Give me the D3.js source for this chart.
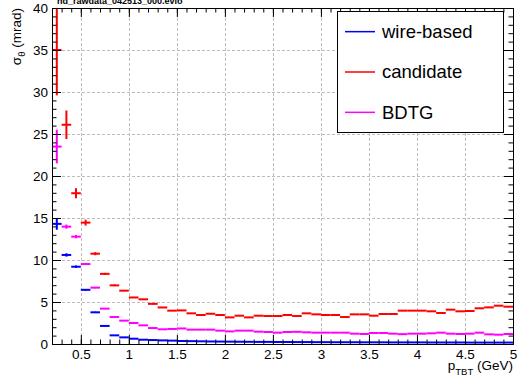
<!DOCTYPE html>
<html>
<head>
<meta charset="utf-8">
<script src="https://cdn.jsdelivr.net/npm/d3@7"></script>
<style>
  html, body { margin: 0; padding: 0; background: #fff; }
  svg { display: block; font-family: "Liberation Sans", Arial, Helvetica, sans-serif; }
</style>
</head>
<body>
<svg id="chart" width="519" height="378"></svg>
<script>
// Bin centres of p_TBT (GeV), 0.1 GeV wide bins from 0.2 to 5.0
const binCenters = [0.25,0.35,0.45,0.55,0.65,0.75,0.85,0.95,1.05,1.15,1.25,1.35,1.45,1.55,1.65,1.75,1.85,1.95,
  2.05,2.15,2.25,2.35,2.45,2.55,2.65,2.75,2.85,2.95,3.05,3.15,3.25,3.35,3.45,3.55,3.65,3.75,3.85,3.95,
  4.05,4.15,4.25,4.35,4.45,4.55,4.65,4.75,4.85,4.95];
const binWidth = 0.1;

// sigma_theta (mrad) per bin
const wireBased = [14.3,10.6,9.2,6.45,3.77,2.15,1.03,0.79,0.63,0.51,0.47,0.43,0.40,0.36,0.34,0.32,0.30,0.29,
  0.28,0.27,0.26,0.25,0.25,0.24,0.24,0.23,0.23,0.22,0.22,0.21,0.21,0.21,0.20,0.20,0.20,0.19,0.19,0.19,
  0.19,0.18,0.18,0.18,0.18,0.17,0.17,0.17,0.17,0.17];
const wireBasedErr = [0.7,0.2,0.15,0.1,0.08,0.06,0.04,0.03,0.03,0.02,0.02,0.02,0.02,0.02,0.02,0.02,0.02,0.02,
  0.02,0.02,0.02,0.02,0.02,0.02,0.02,0.02,0.02,0.02,0.02,0.02,0.02,0.02,0.02,0.02,0.02,0.02,0.02,0.02,
  0.02,0.02,0.02,0.02,0.02,0.02,0.02,0.02,0.02,0.02];

const candidate = [35.0,26.1,17.95,14.45,10.75,8.35,6.98,6.35,5.54,5.32,4.78,4.35,3.97,4.0,3.65,3.45,3.6,3.45,
  3.17,3.37,3.17,3.37,3.33,3.33,3.45,3.33,3.65,3.53,3.45,3.45,3.21,3.53,3.53,3.37,3.57,3.57,3.97,3.97,
  3.97,3.89,3.69,4.09,3.89,3.93,4.25,4.36,4.56,4.44];
const candidateErr = [5.4,1.7,0.6,0.35,0.18,0.12,0.1,0.08,0.07,0.06,0.06,0.05,0.05,0.05,0.05,0.05,0.05,0.05,
  0.05,0.05,0.05,0.05,0.05,0.05,0.05,0.05,0.05,0.05,0.05,0.05,0.05,0.05,0.05,0.05,0.05,0.05,0.05,0.05,
  0.05,0.05,0.05,0.05,0.05,0.05,0.05,0.05,0.05,0.05];

const bdtg = [23.5,13.97,12.78,9.52,6.71,4.21,3.21,2.78,2.5,2.22,1.9,1.75,1.79,1.85,1.71,1.71,1.71,1.59,
  1.5,1.59,1.59,1.47,1.43,1.35,1.43,1.45,1.39,1.35,1.35,1.35,1.35,1.23,1.19,1.31,1.31,1.23,1.17,1.23,
  1.23,1.27,1.35,1.23,1.19,1.23,1.35,1.15,1.11,1.19];
const bdtgErr = [2.0,0.25,0.2,0.12,0.08,0.06,0.05,0.04,0.04,0.03,0.03,0.03,0.03,0.03,0.03,0.03,0.03,0.03,
  0.03,0.03,0.03,0.03,0.03,0.03,0.03,0.03,0.03,0.03,0.03,0.03,0.03,0.03,0.03,0.03,0.03,0.03,0.03,0.03,
  0.03,0.03,0.03,0.03,0.03,0.03,0.03,0.03,0.03,0.03];

const seriesNames = ["wire-based", "candidate", "BDTG"];
const seriesColors = ["#0000ff", "#ff0000", "#ff00ff"];

const xTickValues = [0.5,1,1.5,2,2.5,3,3.5,4,4.5,5];
const xTickLabels = ["0.5","1","1.5","2","2.5","3","3.5","4","4.5","5"];
const yTickValues = [0,5,10,15,20,25,30,35,40];
const yTickLabels = ["0","5","10","15","20","25","30","35","40"];

const titleText = "hd_rawdata_042513_000.evio";

// ---- layout ----
const svg = d3.select("#chart");
const L = 52, R = 513, T = 8, B = 344;
const x = d3.scaleLinear().domain([0.2, 5]).range([L, R]);
const y = d3.scaleLinear().domain([0, 40]).range([B, T]);

// grid
const grid = svg.append("g").attr("stroke", "#bdbdbd").attr("stroke-width", 1).attr("stroke-dasharray", "3,2");
grid.selectAll("line.gx").data(xTickValues.filter(v => v < 5)).join("line")
  .attr("x1", d => Math.round(x(d)) + 0.5).attr("x2", d => Math.round(x(d)) + 0.5)
  .attr("y1", T).attr("y2", B);
grid.selectAll("line.gy").data(yTickValues.filter(v => v > 0 && v < 40)).join("line")
  .attr("y1", d => Math.round(y(d)) + 0.5).attr("y2", d => Math.round(y(d)) + 0.5)
  .attr("x1", L).attr("x2", R);

// data
svg.append("defs").append("clipPath").attr("id", "plotclip")
  .append("rect").attr("x", L).attr("y", T).attr("width", R - L).attr("height", B - T);
const plot = svg.append("g").attr("clip-path", "url(#plotclip)");

const seriesData = [
  { vals: wireBased, errs: wireBasedErr },
  { vals: candidate, errs: candidateErr },
  { vals: bdtg, errs: bdtgErr }
];
seriesData.forEach((s, i) => {
  const g = plot.append("g").attr("stroke", seriesColors[i]).attr("stroke-width", 2);
  const pts = binCenters.map((c, k) => ({ c, v: s.vals[k], e: s.errs[k] }));
  g.selectAll("line.h").data(pts).join("line")
    .attr("x1", d => x(d.c - binWidth / 2)).attr("x2", d => x(d.c + binWidth / 2))
    .attr("y1", d => y(d.v)).attr("y2", d => y(d.v));
  g.selectAll("line.v").data(pts).join("line")
    .attr("x1", d => x(d.c)).attr("x2", d => x(d.c))
    .attr("y1", d => y(d.v - d.e)).attr("y2", d => y(d.v + d.e));
});

// axes (ROOT style: ticks pointing into the frame, on all four sides)
const fontSize = 13.5;
const xMinor = d3.range(3, 51).map(k => k / 10);
const yMinor = d3.range(0, 41);

function styleAxis(g) {
  g.selectAll("path.domain").attr("stroke", "#000").attr("stroke-width", 1);
  g.selectAll(".tick line").attr("stroke", "#000");
  g.selectAll("text").attr("fill", "#000").attr("font-size", fontSize)
    .attr("font-family", "'Liberation Sans', Arial, Helvetica, sans-serif");
}

svg.append("g").attr("transform", `translate(0,${B})`)
  .call(d3.axisBottom(x).tickValues(xMinor).tickSize(-4.5).tickSizeOuter(0).tickFormat(""))
  .call(styleAxis);
svg.append("g").attr("transform", `translate(0,${B})`)
  .call(d3.axisBottom(x).tickValues(xTickValues).tickSize(-9).tickSizeOuter(0).tickPadding(5)
    .tickFormat((d, i) => xTickLabels[i]))
  .call(styleAxis);
svg.append("g").attr("transform", `translate(0,${T})`)
  .call(d3.axisTop(x).tickValues(xMinor).tickSize(-4.5).tickSizeOuter(0).tickFormat(""))
  .call(styleAxis);
svg.append("g").attr("transform", `translate(0,${T})`)
  .call(d3.axisTop(x).tickValues(xTickValues).tickSize(-9).tickSizeOuter(0).tickFormat(""))
  .call(styleAxis);

svg.append("g").attr("transform", `translate(${L},0)`)
  .call(d3.axisLeft(y).tickValues(yMinor).tickSize(-4.5).tickSizeOuter(0).tickFormat(""))
  .call(styleAxis);
svg.append("g").attr("transform", `translate(${L},0)`)
  .call(d3.axisLeft(y).tickValues(yTickValues).tickSize(-9).tickSizeOuter(0).tickPadding(4)
    .tickFormat((d, i) => yTickLabels[i]))
  .call(styleAxis);
svg.append("g").attr("transform", `translate(${R},0)`)
  .call(d3.axisRight(y).tickValues(yMinor).tickSize(-4.5).tickSizeOuter(0).tickFormat(""))
  .call(styleAxis);
svg.append("g").attr("transform", `translate(${R},0)`)
  .call(d3.axisRight(y).tickValues(yTickValues).tickSize(-9).tickSizeOuter(0).tickFormat(""))
  .call(styleAxis);

// axis titles
const xt = svg.append("text").attr("x", R).attr("y", 370).attr("text-anchor", "end")
  .attr("font-size", fontSize).attr("fill", "#000");
xt.append("tspan").text("p");
xt.append("tspan").attr("font-size", 9.5).attr("dy", 5).text("TBT");
xt.append("tspan").attr("dy", -5).text(" (GeV)");

const yt = svg.append("text").attr("transform", "rotate(-90)")
  .attr("x", -T).attr("y", 21).attr("text-anchor", "end")
  .attr("font-size", fontSize).attr("fill", "#000");
yt.append("tspan").text("σ");
yt.append("tspan").attr("font-size", 9.5).attr("dy", 4).text("θ");
yt.append("tspan").attr("dy", -4).text(" (mrad)");

// title (sits at the very top edge of the canvas)
svg.append("text").attr("x", 57).attr("y", 3.5).attr("font-size", 9).attr("font-weight", "bold")
  .attr("fill", "#000").text(titleText);

// legend
const lx0 = 337.5, lx1 = 503.5, ly0 = 11.5, ly1 = 132.5;
const leg = svg.append("g");
leg.append("rect").attr("x", lx0).attr("y", ly0).attr("width", lx1 - lx0).attr("height", ly1 - ly0)
  .attr("fill", "#fff").attr("stroke", "#000").attr("stroke-width", 1);
const rowH = (ly1 - ly0) / seriesNames.length;
const rows = leg.selectAll("g.row").data(seriesNames).join("g")
  .attr("transform", (d, i) => `translate(0,${ly0 + rowH * (i + 0.5)})`);
rows.append("line").attr("x1", 345).attr("x2", 375).attr("y1", 0).attr("y2", 0)
  .attr("stroke", (d, i) => seriesColors[i]).attr("stroke-width", 1.5);
rows.append("text").attr("x", 382).attr("y", 0).attr("dy", "0.35em")
  .attr("font-size", 18.5).attr("fill", "#000").text(d => d);
</script>
</body>
</html>
